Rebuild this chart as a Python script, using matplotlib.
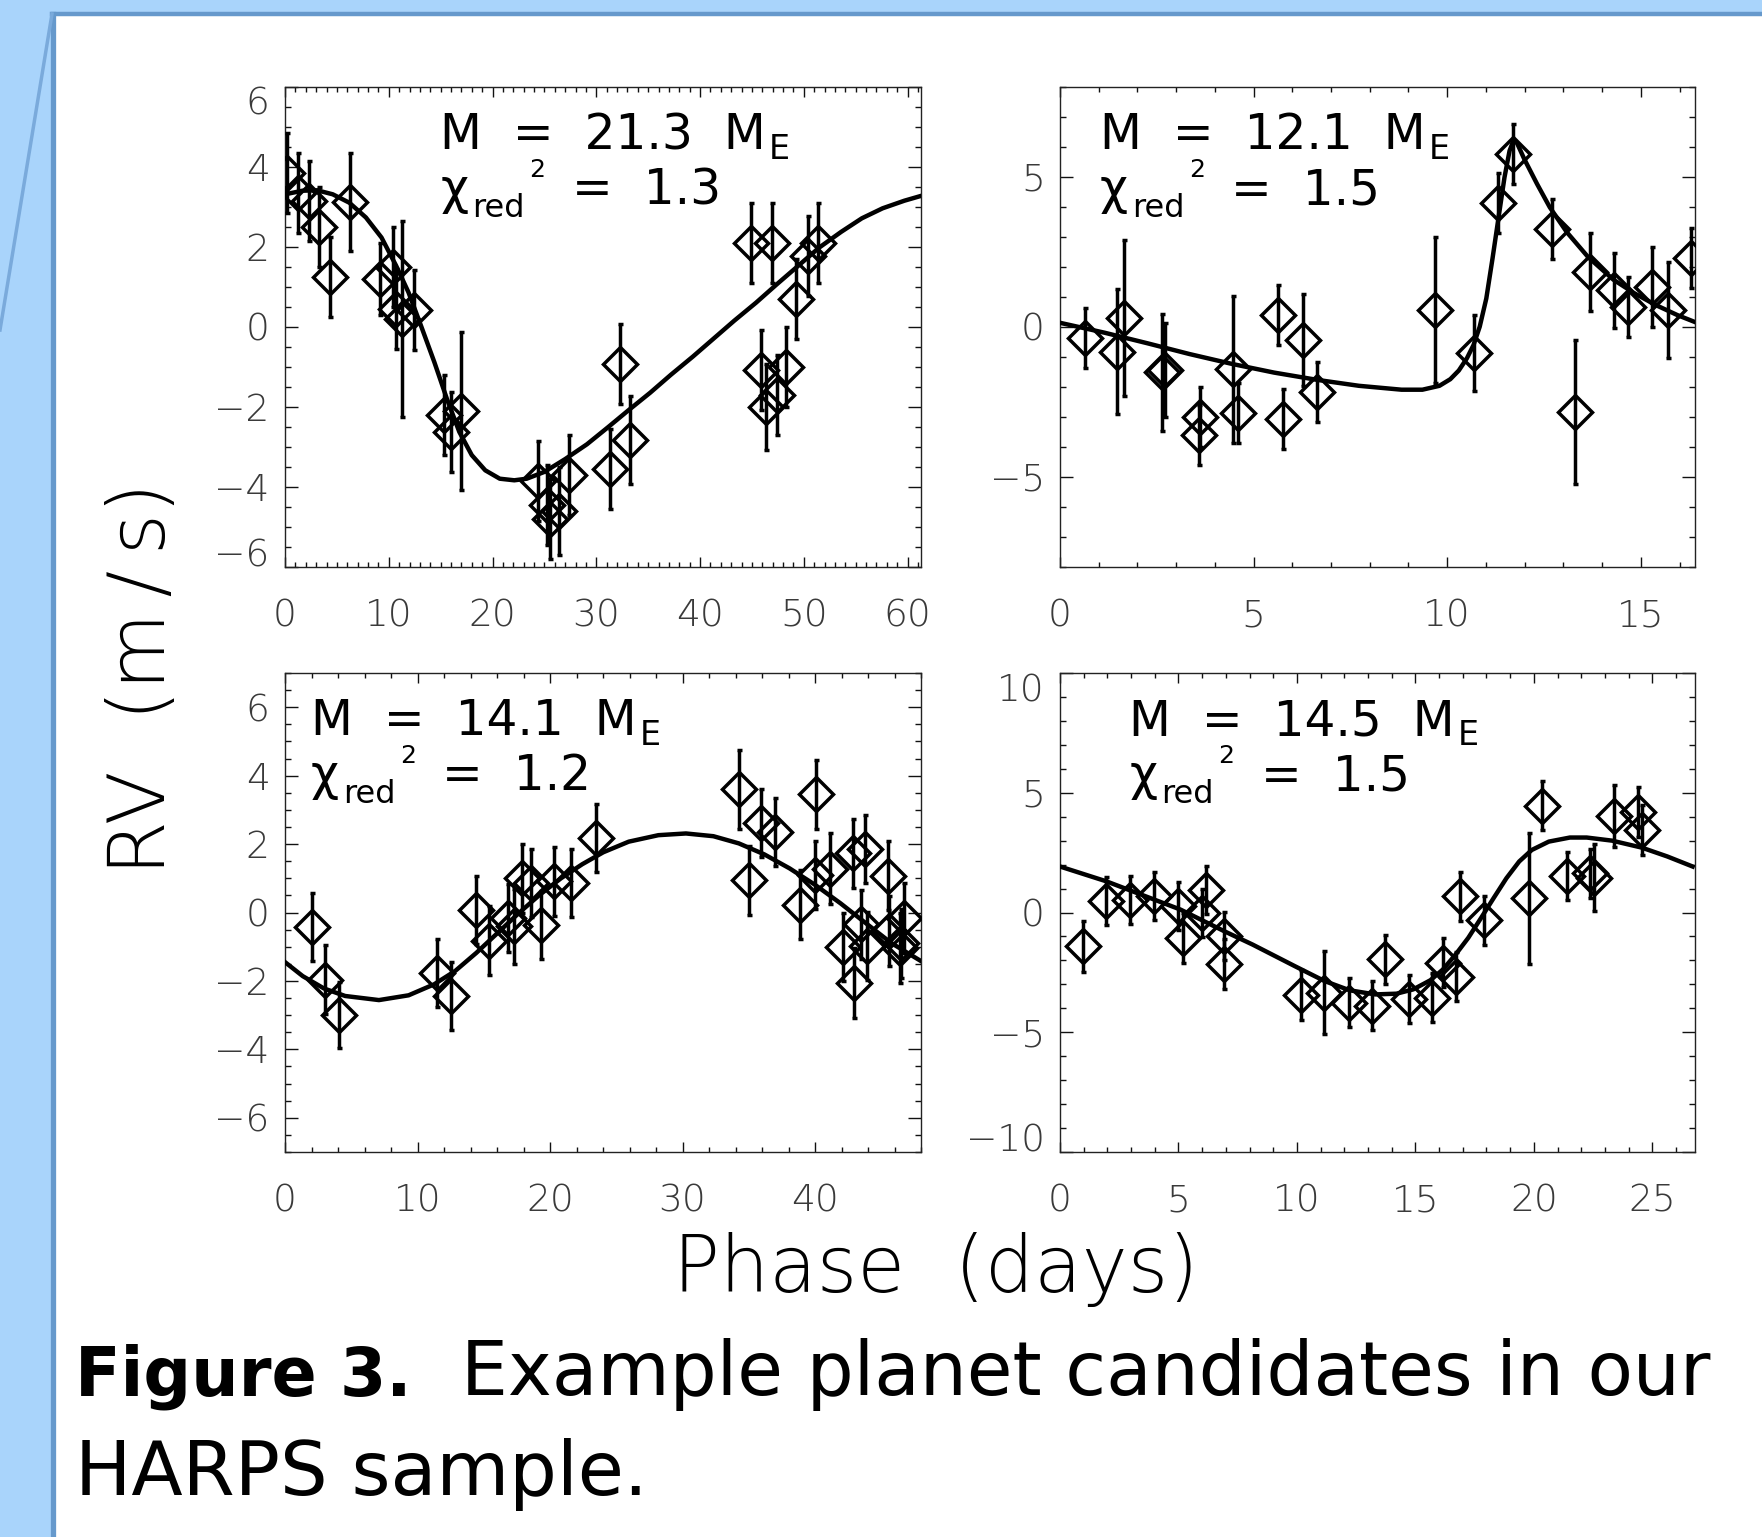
import matplotlib
matplotlib.use('Agg')
import matplotlib.pyplot as plt
from matplotlib.ticker import MultipleLocator
from matplotlib.patches import Rectangle
from matplotlib.lines import Line2D

plt.rcParams['font.family'] = ['DejaVu Sans']

# ---- panel 1 (top left) ----
p1_x = [0.2, 1.3, 2.3, 3.3, 4.3, 6.3, 9.2, 10.4, 10.7, 11.3, 12.4, 15.3, 16.0, 17.0,
        24.4, 25.3, 25.5, 26.4, 27.4, 31.3, 32.3, 33.3,
        44.9, 45.9, 46.4, 46.9, 47.4, 48.3, 49.3, 50.4, 51.4]
p1_y = [3.85, 3.35, 3.15, 2.5, 1.25, 3.12, 1.2, 1.5, 0.45, 0.2, 0.42, -2.2, -2.62, -2.1,
        -3.85, -4.45, -4.8, -4.6, -3.7, -3.55, -0.92, -2.82,
        2.1, -1.08, -2.0, 2.1, -1.7, -1.0, 0.7, 1.78, 2.1]
p1_err = [1.0, 1.0, 1.0, 1.0, 1.0, 1.23, 0.9, 1.0, 1.0, 2.45, 1.0, 1.0, 1.0, 1.97,
          1.0, 1.0, 1.0, 1.1, 1.0, 1.0, 1.0, 1.1,
          1.0, 1.0, 1.07, 1.0, 1.0, 1.0, 1.0, 1.0, 1.0]
p1_fit_x = [0, 1.7, 3.1, 4.6, 6.2, 7.8, 9.3, 10.7, 11.9, 13.1, 14.4, 15.6, 16.8, 18.0,
            19.3, 20.7, 22.1, 23.3, 25.0, 27.0, 29.1, 31.1, 33.1, 35.2, 37.2, 39.3,
            41.3, 43.3, 45.4, 47.4, 49.5, 51.5, 53.6, 55.6, 57.6, 59.7, 61.3]
p1_fit_y = [3.31, 3.4, 3.41, 3.31, 3.1, 2.73, 2.23, 1.53, 0.86, 0.03, -0.89, -1.8, -2.63,
            -3.21, -3.59, -3.8, -3.84, -3.8, -3.63, -3.31, -2.94, -2.52, -2.09, -1.65,
            -1.2, -0.75, -0.3, 0.15, 0.6, 1.06, 1.53, 1.98, 2.37, 2.71, 2.96, 3.15, 3.27]

# ---- panel 2 (top right) ----
p2_x = [0.64, 1.48, 1.64, 2.63, 2.7, 3.62, 3.6, 4.46, 4.6, 5.62, 5.77, 6.28, 6.63,
        9.69, 10.7, 11.31, 11.7, 12.7, 13.3, 13.7, 14.3, 14.68, 15.3, 15.7, 16.3]
p2_y = [-0.39, -0.83, 0.28, -1.52, -1.44, -3.0, -3.6, -1.42, -2.88, 0.38, -3.07, -0.44, -2.16,
        0.55, -0.88, 4.13, 5.77, 3.27, -2.83, 1.83, 1.22, 0.66, 1.33, 0.55, 2.29]
p2_err = [1.0, 2.08, 2.6, 1.96, 1.58, 1.0, 1.0, 2.44, 1.0, 1.0, 1.0, 1.53, 1.0,
          2.43, 1.27, 1.01, 1.0, 1.0, 2.4, 1.3, 1.25, 1.0, 1.34, 1.6, 1.0]
p2_fit_x = [0, 1.15, 2.25, 3.34, 4.44, 5.53, 6.63, 7.72, 8.82, 9.36, 9.8, 10.08, 10.3,
            10.51, 10.68, 10.84, 11.01, 11.17, 11.34, 11.48, 11.61, 11.7, 11.8, 11.99,
            12.32, 12.65, 13.09, 13.64, 14.29, 14.84, 15.39, 15.94, 16.37]
p2_fit_y = [0.13, -0.2, -0.55, -0.91, -1.24, -1.53, -1.77, -1.97, -2.1, -2.1, -1.97, -1.75,
            -1.46, -1.05, -0.61, 0.0, 0.94, 2.27, 3.76, 4.98, 5.86, 6.17, 6.13, 5.59,
            4.76, 3.98, 3.15, 2.32, 1.57, 1.11, 0.72, 0.39, 0.17]

# ---- panel 3 (bottom left) ----
p3_x = [2.0, 3.0, 4.05, 11.5, 12.5, 14.4, 15.4, 16.8, 17.3, 17.9, 18.6, 19.3, 20.3, 21.6,
        23.5, 34.25, 35.05, 35.95, 37.0, 38.9, 40.05, 40.0, 41.1, 42.1, 42.9, 42.95,
        43.5, 43.8, 43.9, 45.5, 45.6, 46.4, 46.5, 46.7]
p3_y = [-0.43, -1.96, -3.0, -1.76, -2.44, 0.08, -0.82, -0.16, -0.4, 1.0, 0.87, -0.37, 0.91,
        0.86, 2.17, 3.6, 0.94, 2.62, 2.36, 0.23, 3.45, 1.1, 1.28, -1.01, 1.73, -2.07,
        -0.35, 1.85, -0.98, 1.08, -0.55, -1.03, -0.9, -0.16]
p3_err = [1.0, 1.0, 0.97, 1.0, 1.0, 1.0, 1.0, 1.0, 1.1, 1.0, 1.0, 1.0, 1.0, 1.0,
          1.0, 1.15, 1.0, 1.0, 1.0, 1.0, 1.0, 1.0, 1.03, 1.0, 1.0, 1.02,
          1.02, 1.0, 1.0, 1.0, 1.02, 1.02, 1.0, 1.02]
p3_fit_x = [0, 1.34, 2.94, 4.54, 7.09, 9.33, 11.25, 12.84, 14.44, 16.04, 17.64, 19.23,
            20.83, 22.43, 24.02, 25.94, 28.18, 30.26, 32.33, 34.25, 36.17, 38.08, 40.0,
            41.92, 43.83, 45.75, 48.0]
p3_fit_y = [-1.45, -1.86, -2.22, -2.44, -2.56, -2.42, -2.1, -1.71, -1.18, -0.6, -0.02,
            0.52, 1.0, 1.41, 1.76, 2.07, 2.26, 2.31, 2.23, 2.02, 1.7, 1.29, 0.81, 0.27,
            -0.31, -0.89, -1.42]

# ---- panel 4 (bottom right) ----
p4_x = [0.98, 1.96, 2.95, 3.98, 4.96, 5.18, 5.98, 6.16, 6.93, 6.93, 10.18, 11.16, 12.18,
        13.18, 13.71, 14.73, 15.71, 16.16, 16.7, 16.88, 17.89, 19.79, 20.36, 21.38,
        22.38, 22.55, 23.39, 24.38, 24.55]
p4_y = [-1.41, 0.49, 0.52, 0.7, 0.28, -1.06, -0.02, 0.94, -0.99, -2.14, -3.46, -3.35, -3.76,
        -3.9, -1.96, -3.6, -3.55, -2.1, -2.69, 0.67, -0.33, 0.6, 4.45, 1.54,
        1.64, 1.46, 4.04, 4.2, 3.44]
p4_err = [1.07, 1.0, 1.0, 1.0, 1.0, 1.04, 1.0, 1.0, 1.0, 1.04, 1.04, 1.73, 1.02,
          1.02, 1.02, 1.0, 1.04, 1.02, 1.02, 1.02, 1.02, 2.74, 1.02, 1.0,
          1.03, 1.4, 1.3, 1.03, 1.04]
p4_fit_x = [0, 1.96, 5.09, 6.93, 8.13, 9.91, 11.16, 12.23, 13.3, 14.2, 14.91, 15.63, 16.16,
            16.7, 17.23, 17.77, 18.3, 18.84, 19.38, 19.91, 20.63, 21.52, 22.23, 23.3,
            24.55, 25.63, 26.7]
p4_fit_y = [1.92, 1.3, 0.12, -0.78, -1.34, -2.24, -2.86, -3.25, -3.42, -3.39, -3.21, -2.83,
            -2.38, -1.75, -1.06, -0.23, 0.6, 1.43, 2.13, 2.61, 2.96, 3.13, 3.13, 3.0,
            2.71, 2.34, 1.92]

masses = ['21.3', '12.1', '14.1', '14.5']
chis = ['1.3', '1.5', '1.2', '1.5']

W, H = 1762, 1537
fig = plt.figure(figsize=(W / 100, H / 100), dpi=100, facecolor='#a9d4fb')

# slide background: white sheet with blue border (kept behind the axes)
fig.patches.append(Rectangle((55 / W, 0), 1, 1 - 16 / H, transform=fig.transFigure,
                             facecolor='white', edgecolor='none', zorder=-10))
fig.lines.append(Line2D([52 / W, 1], [1 - 14 / H, 1 - 14 / H], transform=fig.transFigure,
                        color='#6699cc', lw=3.2, zorder=-9))
fig.lines.append(Line2D([52.5 / W, 52.5 / W], [0, 1 - 14 / H], transform=fig.transFigure,
                        color='#6699cc', lw=3.8, zorder=-9))
fig.lines.append(Line2D([52 / W, 0], [1 - 14 / H, 1 - 330 / H], transform=fig.transFigure,
                        color='#7aaadb', lw=2.5, zorder=-9))

# axes boxes in pixels: left, top, right, bottom
boxes = [(285, 86.7, 921, 566.7), (1060, 86.7, 1695, 566.7),
         (285, 673, 921, 1152), (1060, 673, 1695, 1152)]
data = [(p1_x, p1_y, p1_err, p1_fit_x, p1_fit_y),
        (p2_x, p2_y, p2_err, p2_fit_x, p2_fit_y),
        (p3_x, p3_y, p3_err, p3_fit_x, p3_fit_y),
        (p4_x, p4_y, p4_err, p4_fit_x, p4_fit_y)]
limits = [((0, 61.3), (-6, 6)), ((0, 16.4), (-8, 8)), ((0, 48), (-7, 7)), ((0, 26.8), (-10, 10))]
locs = [(10, 1, 2, 0.5), (5, 1, 5, 1), (10, 2, 2, 0.5), (5, 1, 5, 1)]
txt_x = [0.244, 0.063, 0.041, 0.109]

axes = []
for i in range(4):
    l, t, r, b = boxes[i]
    ax = fig.add_axes([l / W, 1 - b / H, (r - l) / W, (b - t) / H])
    ax.set_facecolor('none')
    axes.append(ax)
    x, y, e, fx, fy = data[i]
    ax.plot(fx, fy, color='black', lw=3.2, zorder=3)
    ax.errorbar(x, y, yerr=e, fmt='D', ms=17.5, mfc='none', mec='black', mew=2.5,
                ecolor='black', elinewidth=2.5, capsize=1.8, capthick=2.5, zorder=4)
    ax.set_xlim(limits[i][0])
    ax.set_ylim(limits[i][1])
    ax.xaxis.set_major_locator(MultipleLocator(locs[i][0]))
    ax.xaxis.set_minor_locator(MultipleLocator(locs[i][1]))
    ax.yaxis.set_major_locator(MultipleLocator(locs[i][2]))
    ax.yaxis.set_minor_locator(MultipleLocator(locs[i][3]))
    ax.tick_params(axis='both', which='both', direction='in', top=True, right=True,
                   width=1.0, color='#111111', labelcolor='#3a3a3a')
    ax.tick_params(axis='x', which='major', length=7, pad=23)
    ax.tick_params(axis='x', which='minor', length=3.5)
    ax.tick_params(axis='y', which='major', length=9.2, pad=11)
    ax.tick_params(axis='y', which='minor', length=4.6)
    for lab in ax.get_xticklabels() + ax.get_yticklabels():
        lab.set_fontsize(27)
        lab.set_fontweight('light')
    for sp in ax.spines.values():
        sp.set_linewidth(1.0)
        sp.set_color('#222222')

    # fit annotation
    x0 = txt_x[i]
    y1, y2 = 0.87, 0.755
    m = ax.text(x0, y1, 'M  =  ' + masses[i] + '  M', transform=ax.transAxes,
                fontsize=35, va='baseline', zorder=6)
    ax.annotate('E', xy=(1, y1), xycoords=(m, 'axes fraction'), xytext=(2, -7),
                textcoords='offset points', fontsize=24, va='baseline')
    c = ax.text(x0, y2, 'χ', transform=ax.transAxes, fontsize=35, va='baseline')
    rd = ax.annotate('red', xy=(1, y2), xycoords=(c, 'axes fraction'), xytext=(3, -9),
                     textcoords='offset points', fontsize=23, va='baseline')
    sq = ax.annotate('2', xy=(1, y2), xycoords=(rd, 'axes fraction'), xytext=(3, 20),
                     textcoords='offset points', fontsize=18, va='baseline')
    ax.annotate('=  ' + chis[i], xy=(1, y2), xycoords=(sq, 'axes fraction'),
                xytext=(19, 0), textcoords='offset points', fontsize=35, va='baseline')

fig.text(936 / W, 1 - 1292 / H, 'Phase  (days)', ha='center', va='baseline',
         fontsize=56, fontweight='light')
fig.text(143 / W, 1 - 679 / H, 'RV  (m\u2009/\u2009s)', ha='center', va='center',
         rotation=90, fontsize=57, fontweight='light')

fig.text(75 / W, 1 - 1395 / H, 'Figure 3.', fontsize=48, fontweight='bold', va='baseline')
fig.text(461 / W, 1 - 1395 / H, 'Example planet candidates in our', fontsize=53.5,
         va='baseline')
fig.text(75 / W, 1 - 1495 / H, 'HARPS sample.', fontsize=54, va='baseline')

# first and last y labels sit inside the box, as in the original
fig.canvas.draw()
for i in (0, 3):
    ax = axes[i]
    lo, hi = ax.get_ylim()
    for tk in ax.yaxis.get_major_ticks():
        if abs(tk.get_loc() - hi) < 1e-6:
            tk.label1.set_va('top')
        elif abs(tk.get_loc() - lo) < 1e-6:
            tk.label1.set_va('baseline')

fig.savefig('out.png', dpi=100, facecolor=fig.get_facecolor())
